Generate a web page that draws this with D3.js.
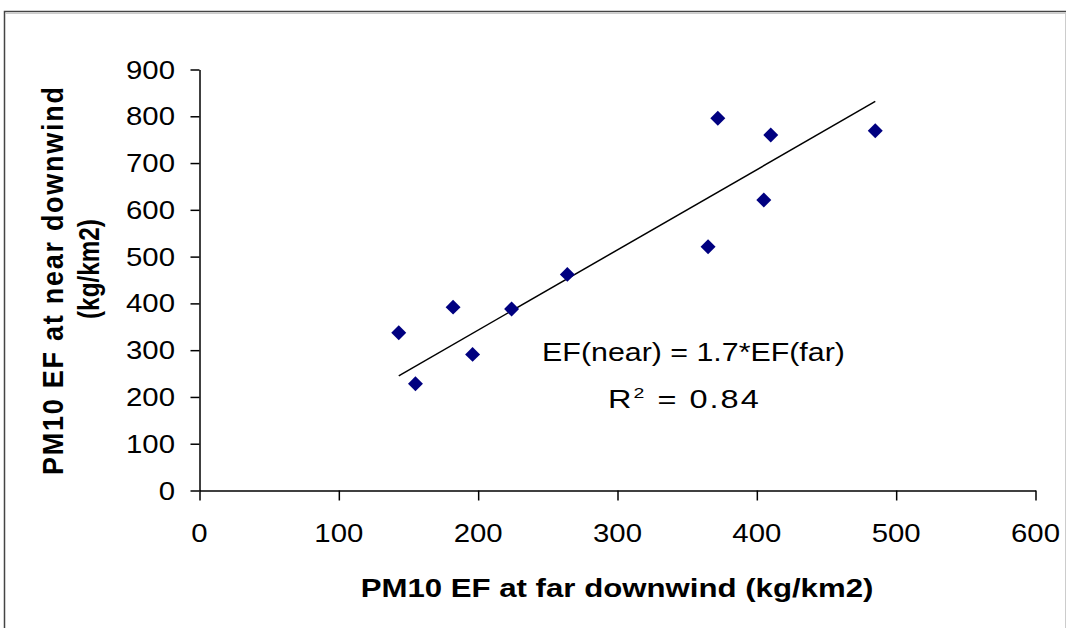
<!DOCTYPE html>
<html>
<head>
<meta charset="utf-8">
<script src="https://cdn.jsdelivr.net/npm/d3@7"></script>
<style>
  html, body { margin: 0; padding: 0; background: #fff; }
  #chart { width: 1066px; height: 628px; }
  text { font-family: "Liberation Sans", Arial, sans-serif; fill: #000; }
</style>
</head>
<body>
<div id="chart"></div>
<script>
// values
const farEF = [143, 155, 182, 196, 224, 264, 365, 372, 405, 410, 485];
const nearEF = [337, 228, 392, 291, 388, 462, 521, 796, 621, 760, 769];
const xTicks = [0, 100, 200, 300, 400, 500, 600];
const yTicks = [0, 100, 200, 300, 400, 500, 600, 700, 800, 900];
const eqLabel = "EF(near) = 1.7*EF(far)";
const r2Value = "0.84";
const xTitle = "PM10 EF at far downwind (kg/km2)";
const yTitleLines = ["PM10 EF at near downwind", "(kg/km2)"];

const width = 1066, height = 628;
const margin = { top: 69.5, right: 30.5, bottom: 137.5, left: 199.5 };
const fontSize = 26;
const stretch = 1.13; // the original picture is wider than it is tall

const svg = d3.select("#chart").append("svg")
    .attr("width", width)
    .attr("height", height);

// outer frame
svg.append("rect")
    .attr("x", 4.5).attr("y", 11.5)
    .attr("width", 1070).attr("height", 700)
    .attr("fill", "none")
    .attr("stroke", "#444")
    .attr("stroke-width", 1.5);
svg.append("line")
    .attr("x1", 5).attr("x2", width).attr("y1", 13.5).attr("y2", 13.5)
    .attr("stroke", "#ccc");
svg.append("line")
    .attr("x1", 1065.5).attr("x2", 1065.5).attr("y1", 12).attr("y2", height)
    .attr("stroke", "#ccc");

const x = d3.scaleLinear().domain([0, 600]).range([margin.left, width - margin.right]);
const y = d3.scaleLinear().domain([0, 900]).range([height - margin.bottom, margin.top]);

// text helper: stretch horizontally, fit to a length, or also spread the letters
function label(g, tx, ty, str, opts) {
    opts = opts || {};
    const wrap = g.append("g");
    const t = wrap.append("text")
        .attr("text-anchor", opts.anchor || "middle")
        .attr("font-size", opts.size || fontSize)
        .attr("font-weight", opts.bold ? "bold" : "normal")
        .text(str);
    let sx = opts.sx || stretch;
    if (opts.fit) sx = opts.fit / t.node().getComputedTextLength();
    if (opts.spread) t.attr("textLength", opts.spread / sx).attr("lengthAdjust", "spacing");
    wrap.attr("transform", "translate(" + tx + "," + ty + ")" +
        (opts.rotate ? " rotate(" + opts.rotate + ")" : "") +
        " scale(" + sx + "," + (opts.sy || 1) + ")");
    return t;
}

// axes
const xAxis = d3.axisBottom(x).tickValues(xTicks).tickSize(10).tickSizeOuter(0).tickFormat("");
const yAxis = d3.axisLeft(y).tickValues(yTicks).tickSize(9).tickSizeOuter(0).tickFormat("");

const gx = svg.append("g").attr("transform", "translate(0," + y(0) + ")").call(xAxis);
const gy = svg.append("g").attr("transform", "translate(" + x(0) + ",0)").call(yAxis);
[gx, gy].forEach((g) => {
    g.selectAll("path, line").attr("stroke", "#000").attr("stroke-width", 1.5);
});

const labels = svg.append("g");
xTicks.forEach((v) => {
    label(labels, x(v), 542, v);
});
yTicks.forEach((v) => {
    label(labels, 175, y(v) + 9, v, { anchor: "end" });
});

// axis titles
label(labels, 617, 597, xTitle, { bold: true, size: 25, fit: 513 });
label(labels, 63, 281, yTitleLines[0], { bold: true, size: 25, rotate: -90, sx: 1.08, spread: 388, sy: 1.15 });
label(labels, 99, 269, yTitleLines[1], { bold: true, size: 25, rotate: -90, fit: 100, sy: 1.15 });

// trend line through origin (least squares)
const slope = d3.sum(farEF, (d, i) => d * nearEF[i]) / d3.sum(farEF, (d) => d * d);
const xMin = d3.min(farEF), xMax = d3.max(farEF);
svg.append("line")
    .attr("x1", x(xMin)).attr("y1", y(slope * xMin))
    .attr("x2", x(xMax)).attr("y2", y(slope * xMax))
    .attr("stroke", "#000")
    .attr("stroke-width", 1.5);

// points
svg.append("g").selectAll("path")
    .data(farEF.map((d, i) => ({ far: d, near: nearEF[i] })))
    .enter()
    .append("path")
    .attr("d", d3.symbol().type(d3.symbolSquare).size(112))
    .attr("transform", (d) => "translate(" + x(d.far) + "," + y(d.near) + ") rotate(45)")
    .attr("fill", "#000080");

// equation
label(labels, 693.5, 361, eqLabel, { size: 25, fit: 303 });
const r2 = label(labels, 608, 408, "R", { size: 25, anchor: "start", sx: 1.3 });
r2.append("tspan").attr("font-size", 15).attr("dy", -10).text("2");
r2.append("tspan").attr("dy", 10).text(" = " + r2Value);
r2.attr("textLength", 116).attr("lengthAdjust", "spacing");
</script>
</body>
</html>
